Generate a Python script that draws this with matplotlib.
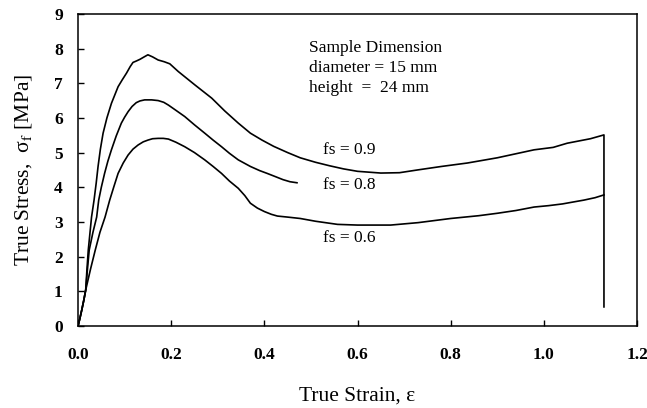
import matplotlib
matplotlib.use("Agg")
import matplotlib.pyplot as plt

# curves (true strain, true stress in MPa)
strain_09 = [0.0, 0.004, 0.008, 0.0125, 0.0165, 0.019, 0.022, 0.029, 0.0344, 0.039,
             0.043, 0.048, 0.0538, 0.062, 0.0717, 0.086, 0.095, 0.104, 0.112, 0.118,
             0.125, 0.133, 0.142, 0.15, 0.16, 0.172, 0.185, 0.197, 0.215, 0.251,
             0.287, 0.315, 0.344, 0.37, 0.395, 0.42, 0.45, 0.477, 0.51, 0.54,
             0.57, 0.6, 0.65, 0.69, 0.729, 0.78, 0.836, 0.9, 0.979, 1.02, 1.05,
             1.1, 1.129, 1.129]
stress_09 = [0.0, 0.22, 0.46, 0.75, 1.04, 1.6, 2.19, 3.14, 3.63, 4.12,
             4.6, 5.1, 5.56, 6.0, 6.42, 6.9, 7.1, 7.29, 7.48, 7.6,
             7.64, 7.69, 7.76, 7.82, 7.76, 7.67, 7.62, 7.56, 7.34, 6.95,
             6.57, 6.2, 5.85, 5.56, 5.36, 5.18, 5.0, 4.85, 4.72, 4.62,
             4.53, 4.46, 4.41, 4.42, 4.5, 4.6, 4.7, 4.85, 5.08, 5.15, 5.27,
             5.4, 5.51, 0.55]

strain_08 = [0.0, 0.004, 0.008, 0.0125, 0.0165, 0.02, 0.024, 0.032, 0.04, 0.0444,
             0.05, 0.057, 0.064, 0.0717, 0.082, 0.093, 0.1, 0.1075, 0.116, 0.125,
             0.133, 0.143, 0.158, 0.172, 0.184, 0.194, 0.21, 0.229, 0.25, 0.272,
             0.29, 0.308, 0.325, 0.344, 0.37, 0.39, 0.406, 0.425, 0.44, 0.455,
             0.47]
stress_08 = [0.0, 0.22, 0.46, 0.75, 1.04, 1.6, 2.19, 2.7, 3.14, 3.63,
             4.0, 4.4, 4.75, 5.08, 5.48, 5.85, 6.02, 6.18, 6.33, 6.44,
             6.49, 6.52, 6.52, 6.5, 6.45, 6.37, 6.22, 6.04, 5.8, 5.56,
             5.36, 5.17, 4.98, 4.79, 4.6, 4.48, 4.4, 4.3, 4.22, 4.16,
             4.13]

strain_06 = [0.0, 0.004, 0.008, 0.0125, 0.0165, 0.027, 0.037, 0.047, 0.058, 0.068,
             0.077, 0.086, 0.097, 0.1075, 0.118, 0.129, 0.14, 0.15, 0.16, 0.172,
             0.183, 0.194, 0.21, 0.229, 0.25, 0.272, 0.29, 0.308, 0.325, 0.344,
             0.358, 0.37, 0.385, 0.4, 0.415, 0.428, 0.45, 0.477, 0.51, 0.557,
             0.6, 0.671, 0.73, 0.8, 0.86, 0.9, 0.94, 0.979, 1.01, 1.04, 1.065,
             1.086, 1.11, 1.129]
stress_06 = [0.0, 0.22, 0.46, 0.75, 1.04, 1.65, 2.19, 2.7, 3.14, 3.63,
             4.02, 4.4, 4.7, 4.93, 5.1, 5.22, 5.31, 5.36, 5.4, 5.41,
             5.41, 5.39, 5.3, 5.17, 5.0, 4.79, 4.6, 4.4, 4.18, 3.97,
             3.76, 3.54, 3.4, 3.3, 3.22, 3.17, 3.14, 3.1, 3.02, 2.93,
             2.91, 2.91, 2.98, 3.1, 3.18, 3.25, 3.33, 3.43, 3.47, 3.52, 3.58,
             3.63, 3.7, 3.78]

labels = ["fs = 0.9", "fs = 0.8", "fs = 0.6"]
label_pos = [(0.525, 5.08), (0.525, 4.07), (0.525, 2.54)]
note_lines = ["Sample Dimension", "diameter = 15 mm", "height  =  24 mm"]

plt.rcParams["font.family"] = ["Liberation Serif", "DejaVu Serif"]
plt.rcParams["mathtext.fontset"] = "stix"

fig = plt.figure(figsize=(6.47, 4.08), dpi=100)
ax = fig.add_axes([0.1206, 0.201, 0.864, 0.765])

for xs, ys in [(strain_09, stress_09), (strain_08, stress_08), (strain_06, stress_06)]:
    ax.plot(xs, ys, color="black", linewidth=1.2)

for text, (x, y) in zip(labels, label_pos):
    ax.text(x, y, text, fontsize=12.5, va="center", ha="left")

for i, line in enumerate(note_lines):
    ax.text(0.495, 8.02 - i * 0.58, line, fontsize=12.5, va="center", ha="left")

ax.set_xlim(0, 1.2)
ax.set_ylim(0, 9)
ax.set_xticks([0.0, 0.2, 0.4, 0.6, 0.8, 1.0, 1.2])
ax.set_xticklabels(["0.0", "0.2", "0.4", "0.6", "0.8", "1.0", "1.2"])
ax.set_yticks(range(10))
ax.tick_params(direction="in", length=4, width=1, labelsize=12.5)
ax.tick_params(axis="x", pad=15)
ax.tick_params(axis="y", pad=11)
for lab in ax.get_xticklabels() + ax.get_yticklabels():
    lab.set_fontweight("bold")
for s in ax.spines.values():
    s.set_linewidth(1.1)

ax.set_xlabel("True Strain, ε", fontsize=15.5, labelpad=17)
ax.set_ylabel("True Stress,  σ$_\\mathrm{f}$ [MPa]", fontsize=15.5, labelpad=14)

fig.savefig("out.png", dpi=100)
